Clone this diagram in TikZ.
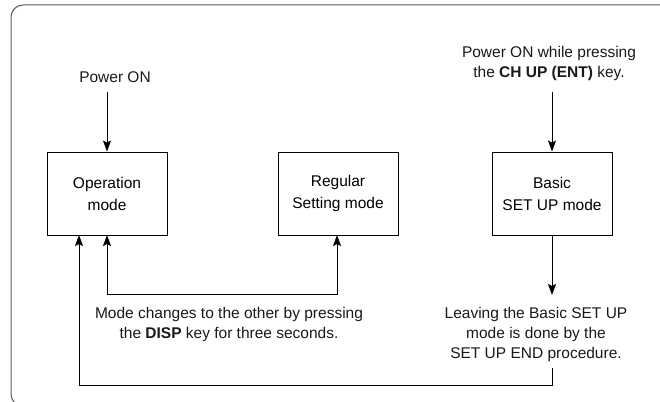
\documentclass[tikz,border=0pt]{standalone}
\usepackage{fontspec}
\setmainfont{Liberation Sans}
\usetikzlibrary{arrows.meta}
\begin{document}
\begin{tikzpicture}[x=1pt,y=-1pt,
  box/.style={draw=black,line width=0.9pt,minimum width=120pt,minimum height=83pt,inner sep=0pt,align=center,font=\fontsize{15.5}{21}\selectfont},
  lbl/.style={align=center,inner sep=0pt,font=\fontsize{15.5}{20}\selectfont,text=black!90},
  conn/.style={line width=0.9pt},
  tip/.tip={Stealth[length=11pt,width=8pt,inset=2pt]},
  arr/.style={conn,-tip},
  frame/.style={draw=black!65,line width=1pt,rounded corners=12pt}]
\useasboundingbox (0,0) rectangle (660,401);
\draw[frame] (690,5) -- (11,5) -- (11,406) -- (40,406);
% boxes
\node[box] (op) at (107,193.5) {\raisebox{-2pt}{Operation}\\[1pt]\raisebox{-2pt}{mode}};
\node[box] (reg) at (338,193.5) {\raisebox{-2pt}{Regular}\\[1pt]\raisebox{-2pt}{Setting mode}};
\node[box] (bas) at (552,193.5) {\raisebox{-2pt}{Basic}\\[1pt]\raisebox{-2pt}{SET UP mode}};
% labels
\node[lbl] (p1) at (115,77) {Power ON};
\node[lbl] (p2) at (549,63.5) {Power ON while pressing\\the \textbf{CH UP (ENT)} key.};
\node[lbl] (mc) at (229,324.5) {Mode changes to the other by pressing\\the \textbf{DISP} key for three seconds.};
\node[lbl] (lv) at (536,334) {Leaving the Basic SET UP\\mode is done by the\\SET UP END procedure.};
% coordinates
\coordinate (p1e) at (107,92);
\coordinate (p2e) at (552,92);
\coordinate (bse) at (552,295);
\coordinate (lve) at (552,368);
\coordinate (y1) at (0,294);
\coordinate (y2) at (0,385);
\coordinate (opa) at (79,235);
\coordinate (opb) at (107,235);
\coordinate (rga) at (337,235);
% connectors
\draw[arr] (p1e) -- (op.north);
\draw[arr] (p2e) -- (bas.north);
\draw[arr] (bas.south) -- (bse);
\draw[conn,tip-tip] (opb) -- (opb |- y1) -- (rga |- y1) -- (rga);
\draw[arr] (lve) -- (lve |- y2) -- (opa |- y2) -- (opa);
\end{tikzpicture}
\end{document}
